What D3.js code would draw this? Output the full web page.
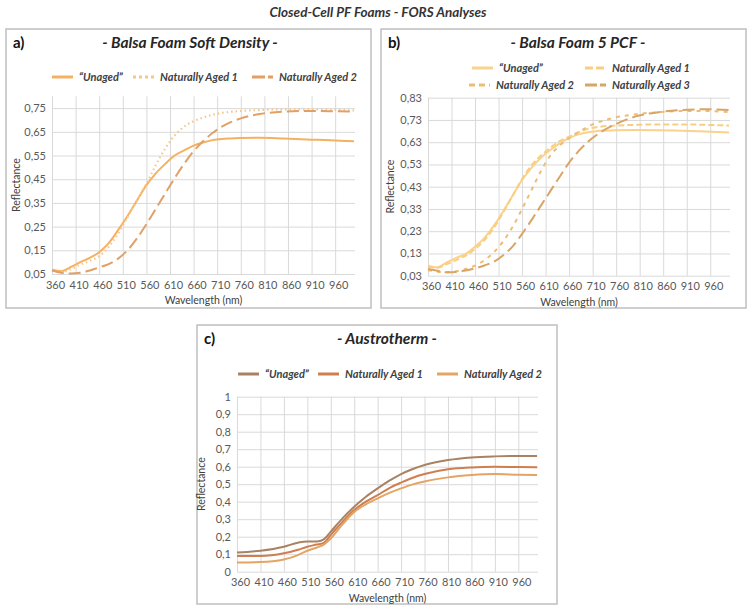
<!DOCTYPE html>
<html>
<head>
<meta charset="utf-8">
<script src="https://cdn.jsdelivr.net/npm/d3@7"></script>
<style>
body { margin: 0; background: #fff; }
text { font-family: Lato, "Open Sans", sans-serif; }
</style>
</head>
<body>
<svg width="755" height="612"></svg>
<script>
// Data (reflectance vs wavelength, nm)
var xTicks = [360, 410, 460, 510, 560, 610, 660, 710, 760, 810, 860, 910, 960];

// a) Balsa Foam Soft Density
var wlA = [360, 380, 400, 420, 440, 460, 480, 500, 520, 540, 560, 580, 600, 620, 640, 660, 680, 700, 720, 740, 760, 800, 850, 900, 950, 1000];
var aUnaged = [0.068, 0.062, 0.08, 0.1, 0.118, 0.142, 0.18, 0.235, 0.295, 0.36, 0.425, 0.475, 0.515, 0.55, 0.572, 0.592, 0.605, 0.615, 0.62, 0.622, 0.624, 0.625, 0.622, 0.618, 0.615, 0.61];
var aAged1 = [0.065, 0.058, 0.07, 0.09, 0.105, 0.125, 0.165, 0.22, 0.29, 0.36, 0.43, 0.51, 0.58, 0.635, 0.672, 0.695, 0.71, 0.722, 0.73, 0.735, 0.738, 0.742, 0.745, 0.745, 0.743, 0.74];
var aAged2 = [0.065, 0.055, 0.052, 0.055, 0.065, 0.078, 0.092, 0.115, 0.15, 0.2, 0.26, 0.325, 0.39, 0.455, 0.515, 0.568, 0.61, 0.645, 0.672, 0.692, 0.707, 0.725, 0.735, 0.738, 0.737, 0.735];
var yTicksA = [0.05, 0.15, 0.25, 0.35, 0.45, 0.55, 0.65, 0.75];

// b) Balsa Foam 5 PCF
var wlB = [360, 380, 400, 420, 440, 460, 480, 500, 520, 540, 560, 580, 600, 620, 640, 660, 680, 700, 720, 760, 800, 850, 900, 950, 1000];
var bUnaged = [0.075, 0.068, 0.09, 0.11, 0.128, 0.16, 0.2, 0.255, 0.32, 0.39, 0.46, 0.515, 0.56, 0.595, 0.625, 0.648, 0.665, 0.675, 0.68, 0.684, 0.685, 0.684, 0.681, 0.678, 0.674];
var bAged1 = [0.07, 0.065, 0.082, 0.1, 0.12, 0.15, 0.19, 0.245, 0.315, 0.39, 0.465, 0.525, 0.57, 0.605, 0.635, 0.655, 0.675, 0.69, 0.698, 0.705, 0.708, 0.71, 0.71, 0.708, 0.705];
var bAged2 = [0.055, 0.048, 0.045, 0.05, 0.06, 0.075, 0.1, 0.135, 0.185, 0.25, 0.33, 0.415, 0.5, 0.57, 0.615, 0.648, 0.675, 0.7, 0.718, 0.742, 0.755, 0.765, 0.77, 0.77, 0.765];
var bAged3 = [0.06, 0.052, 0.045, 0.047, 0.053, 0.063, 0.076, 0.093, 0.122, 0.162, 0.218, 0.28, 0.345, 0.41, 0.475, 0.538, 0.59, 0.632, 0.665, 0.712, 0.745, 0.765, 0.775, 0.778, 0.775];
var yTicksB = [0.03, 0.13, 0.23, 0.33, 0.43, 0.53, 0.63, 0.73, 0.83];

// c) Austrotherm
var wlC = [360, 410, 460, 490, 510, 530, 545, 560, 585, 610, 635, 660, 685, 710, 735, 760, 810, 860, 910, 960, 1000];
var cUnaged = [0.11, 0.12, 0.143, 0.166, 0.173, 0.173, 0.185, 0.229, 0.305, 0.371, 0.428, 0.476, 0.52, 0.558, 0.587, 0.61, 0.638, 0.653, 0.659, 0.661, 0.661];
var cAged1 = [0.09, 0.09, 0.105, 0.125, 0.143, 0.155, 0.165, 0.21, 0.285, 0.352, 0.4, 0.438, 0.478, 0.509, 0.537, 0.558, 0.585, 0.596, 0.6, 0.598, 0.597];
var cAged2 = [0.053, 0.055, 0.07, 0.095, 0.12, 0.138, 0.155, 0.19, 0.27, 0.341, 0.385, 0.419, 0.45, 0.476, 0.499, 0.516, 0.539, 0.552, 0.558, 0.554, 0.552];
var yTicksC = [0, 0.1, 0.2, 0.3, 0.4, 0.5, 0.6, 0.7, 0.8, 0.9, 1];

var svg = d3.select("svg");

// comma decimals like the original
function fmt(d) { return String(+d.toFixed(2)).replace(".", ","); }

svg.append("text")
  .attr("x", 378).attr("y", 17)
  .attr("text-anchor", "middle")
  .attr("font-size", 13.5).attr("font-weight", "bold").attr("font-style", "italic")
  .attr("fill", "#333")
  .text("Closed-Cell PF Foams - FORS Analyses");

function drawPanel(p) {
  var g = svg.append("g");

  g.append("rect")
    .attr("x", p.box[0]).attr("y", p.box[1])
    .attr("width", p.box[2] - p.box[0]).attr("height", p.box[3] - p.box[1])
    .attr("fill", "#fff").attr("stroke", "#bfbfbf").attr("stroke-width", 1.5);

  var x = d3.scaleLinear().domain([360, 1002]).range([p.left, p.right]);
  var y = d3.scaleLinear().domain(p.yDomain).range([p.bottom, p.top]);

  // horizontal gridlines + y labels
  var ya = g.append("g")
    .attr("transform", "translate(" + p.left + ",0)")
    .call(d3.axisLeft(y).tickValues(p.yTicks).tickSize(-(p.right - p.left)).tickPadding(6).tickFormat(fmt));
  ya.select(".domain").remove();
  ya.selectAll("line").attr("stroke", "#d9d9d9");
  ya.selectAll("text").attr("fill", "#595959").attr("font-size", 11).attr("font-family", "Lato");

  // vertical gridlines + x labels
  var xa = g.append("g")
    .attr("transform", "translate(0," + p.bottom + ")")
    .call(d3.axisBottom(x).tickValues(xTicks).tickSize(-(p.bottom - p.top)).tickPadding(7).tickFormat(d3.format("d")));
  xa.select(".domain").remove();
  xa.selectAll("line").attr("stroke", "#d9d9d9");
  xa.selectAll("text").attr("fill", "#595959").attr("font-size", 11).attr("font-family", "Lato")
    .attr("dx", 3);

  var line = d3.line()
    .x(function(d) { return x(d[0]); })
    .y(function(d) { return y(d[1]); })
    .curve(d3.curveMonotoneX);

  p.series.forEach(function(s) {
    g.append("path")
      .datum(s.wl.map(function(w, i) { return [w, s.values[i]]; }))
      .attr("d", line)
      .attr("fill", "none")
      .attr("stroke", s.color)
      .attr("stroke-width", s.width || 2)
      .attr("stroke-dasharray", s.dash || null);

    g.append("line")
      .attr("x1", s.legend[0]).attr("x2", s.legend[0] + 21)
      .attr("y1", s.legend[1]).attr("y2", s.legend[1])
      .attr("stroke", s.color).attr("stroke-width", 3)
      .attr("stroke-dasharray", s.legendDash || s.dash || null);
    g.append("text")
      .attr("x", s.legend[0] + 27).attr("y", s.legend[1] + 4)
      .attr("font-size", 11).attr("font-weight", "bold").attr("font-style", "italic")
      .attr("fill", "#404040")
      .text(s.name);
  });

  // panel letter and title
  g.append("text")
    .attr("x", p.box[0] + 7).attr("y", p.titleY)
    .attr("font-size", 15).attr("font-weight", "bold")
    .attr("font-family", "Liberation Sans").attr("fill", "#111")
    .text(p.letter);
  g.append("text")
    .attr("x", p.titleX).attr("y", p.titleY)
    .attr("text-anchor", "middle")
    .attr("font-size", 15.5).attr("font-weight", "bold").attr("font-style", "italic")
    .attr("fill", "#262626")
    .text(p.title);

  // axis titles
  g.append("text")
    .attr("transform", "translate(" + p.yLabelX + "," + ((p.top + p.bottom) / 2) + ") rotate(-90)")
    .attr("text-anchor", "middle").attr("font-size", 10.5).attr("fill", "#404040")
    .text("Reflectance");
  g.append("text")
    .attr("x", (p.left + p.right) / 2).attr("y", p.bottom + 30)
    .attr("text-anchor", "middle").attr("font-size", 10.5).attr("fill", "#404040")
    .text("Wavelength (nm)");
}

drawPanel({
  letter: "a)", title: "- Balsa Foam Soft Density -", titleX: 190, titleY: 48,
  box: [6, 29, 371, 308], left: 52, right: 355, top: 96.3, bottom: 274,
  yDomain: [0.05, 0.80], yTicks: yTicksA, yLabelX: 20,
  series: [
    { name: "\u201CUnaged\u201D", wl: wlA, values: aUnaged, color: "#F4B162", legend: [52, 77] },
    { name: "Naturally Aged 1", wl: wlA, values: aAged1, color: "#F8C688", dash: "1.5,3", width: 2.2, legend: [133, 77], legendDash: "3,3" },
    { name: "Naturally Aged 2", wl: wlA, values: aAged2, color: "#E0A066", dash: "12,5", legend: [252, 77], legendDash: "13,3" }
  ]
});

drawPanel({
  letter: "b)", title: "- Balsa Foam 5 PCF -", titleX: 578, titleY: 48,
  box: [381, 29, 746, 308], left: 428, right: 730, top: 97.7, bottom: 275.7,
  yDomain: [0.03, 0.83], yTicks: yTicksB, yLabelX: 394,
  series: [
    { name: "\u201CUnaged\u201D", wl: wlB, values: bUnaged, color: "#F9D38C", legend: [472, 68] },
    { name: "Naturally Aged 1", wl: wlB, values: bAged1, color: "#F8CF80", dash: "6,3", legend: [585, 68], legendDash: "8,3" },
    { name: "Naturally Aged 2", wl: wlB, values: bAged2, color: "#EFBC76", dash: "4,5", legend: [469, 85], legendDash: "6,4" },
    { name: "Naturally Aged 3", wl: wlB, values: bAged3, color: "#D9A566", dash: "12,5", legend: [585, 85], legendDash: "12,3" }
  ]
});

drawPanel({
  letter: "c)", title: "- Austrotherm -", titleX: 387, titleY: 344,
  box: [197, 325, 557, 604], left: 237, right: 538, top: 396.7, bottom: 571.7,
  yDomain: [0, 1], yTicks: yTicksC, yLabelX: 205,
  series: [
    { name: "\u201CUnaged\u201D", wl: wlC, values: cUnaged, color: "#A98262", legend: [238, 374] },
    { name: "Naturally Aged 1", wl: wlC, values: cAged1, color: "#CF7E50", legend: [318, 374] },
    { name: "Naturally Aged 2", wl: wlC, values: cAged2, color: "#E4A464", legend: [437, 374] }
  ]
});
</script>
</body>
</html>
